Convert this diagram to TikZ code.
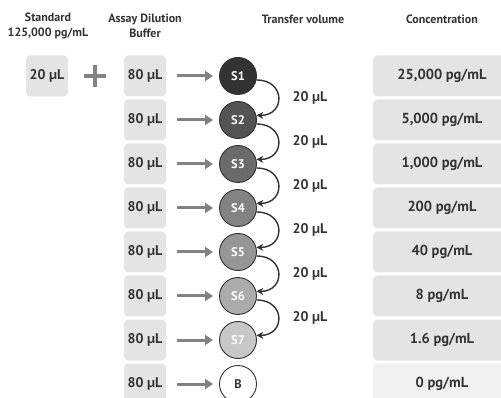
\documentclass[tikz,border=0pt]{standalone}
\usepackage{fontspec}
\setmainfont{PT Sans}
\usetikzlibrary{arrows.meta}
\definecolor{boxgray}{HTML}{E4E4E4}
\definecolor{blankgray}{HTML}{F0F0F0}
\definecolor{inkgray}{HTML}{333335}
\definecolor{arrowgray}{HTML}{808285}
\begin{document}
\begin{tikzpicture}[x=1pt,y=-1pt,
  head/.style={align=center, text=inkgray, font=\fontsize{12}{15}\selectfont\bfseries},
  volbox/.style={fill=boxgray, rounded corners=4pt, minimum width=42pt, minimum height=41pt, text=inkgray, font=\fontsize{14}{16}\selectfont\bfseries},
  concbox/.style={fill=boxgray, rounded corners=4pt, minimum width=140pt, minimum height=41pt},
  conctext/.style={text=inkgray, font=\fontsize{14.5}{16}\selectfont\bfseries},
  tube/.style={circle, draw=inkgray, line width=0.9pt, minimum size=37pt, inner sep=0pt, text=white, font=\fontsize{12.5}{14}\selectfont\bfseries},
  addarrow/.style={draw=arrowgray, line width=3pt, shorten >=6pt, -{Triangle[length=8pt,width=10pt]}},
  transfer/.style={draw=inkgray, line width=1.4pt, -{Stealth[length=7pt,width=7pt]}, out=0, in=0, looseness=2.1},
  vollabel/.style={text=inkgray, font=\fontsize{14}{16}\selectfont\bfseries}
]
\useasboundingbox (0,0) rectangle (501,398);

\node[head] (hstd) at (48,26) {Standard\\125,000 pg/mL};
\node[head] (hbuf) at (145,26) {Assay Dilution\\Buffer};
\node[head] (htr) at (303,19) {Transfer volume};
\node[head] (hconc) at (442,19) {Concentration};

\node[volbox] (std) at (47,76) {20 µL};
\draw[arrowgray, line width=4.5pt] (84,76) -- (106,76) (95,65) -- (95,87);

\node[volbox] (b1) at (145,76) {80 µL};
\node[volbox] (b2) at (145,120) {80 µL};
\node[volbox] (b3) at (145,164) {80 µL};
\node[volbox] (b4) at (145,208) {80 µL};
\node[volbox] (b5) at (145,252) {80 µL};
\node[volbox] (b6) at (145,296) {80 µL};
\node[volbox] (b7) at (145,340) {80 µL};
\node[volbox] (b8) at (145,384) {80 µL};

\node[tube, fill=inkgray] (s1) at (238,76) {S1};
\node[tube, fill=black!67] (s2) at (238,120) {S2};
\node[tube, fill=black!58] (s3) at (238,164) {S3};
\node[tube, fill=black!49] (s4) at (238,208) {S4};
\node[tube, fill=black!41] (s5) at (238,252) {S5};
\node[tube, fill=black!33] (s6) at (238,296) {S6};
\node[tube, fill=black!22] (s7) at (238,340) {S7};
\node[tube, fill=white, text=inkgray] (s8) at (238,384) {B};

\coordinate (a1) at (177,76);
\coordinate (a2) at (177,120);
\coordinate (a3) at (177,164);
\coordinate (a4) at (177,208);
\coordinate (a5) at (177,252);
\coordinate (a6) at (177,296);
\coordinate (a7) at (177,340);
\coordinate (a8) at (177,384);
\draw[addarrow] (a1) -- (s1.west);
\draw[addarrow] (a2) -- (s2.west);
\draw[addarrow] (a3) -- (s3.west);
\draw[addarrow] (a4) -- (s4.west);
\draw[addarrow] (a5) -- (s5.west);
\draw[addarrow] (a6) -- (s6.west);
\draw[addarrow] (a7) -- (s7.west);
\draw[addarrow] (a8) -- (s8.west);

\draw[transfer] (s1.-12) to (s2.14);
\draw[transfer] (s2.-12) to (s3.14);
\draw[transfer] (s3.-12) to (s4.14);
\draw[transfer] (s4.-12) to (s5.14);
\draw[transfer] (s5.-12) to (s6.14);
\draw[transfer] (s6.-12) to (s7.14);

\node[vollabel] (t1) at (310,98) {20 µL};
\node[vollabel] (t2) at (310,142) {20 µL};
\node[vollabel] (t3) at (310,186) {20 µL};
\node[vollabel] (t4) at (310,230) {20 µL};
\node[vollabel] (t5) at (310,274) {20 µL};
\node[vollabel] (t6) at (310,318) {20 µL};

\node[concbox, anchor=west] (c1) at (373,76) {};
\node[concbox, anchor=west] (c2) at (373,120) {};
\node[concbox, anchor=west] (c3) at (373,164) {};
\node[concbox, anchor=west] (c4) at (373,208) {};
\node[concbox, anchor=west] (c5) at (373,252) {};
\node[concbox, anchor=west] (c6) at (373,296) {};
\node[concbox, anchor=west] (c7) at (373,340) {};
\node[concbox, anchor=west, fill=blankgray] (c8) at (373,384) {};
\node[conctext] at (442,76) {25,000 pg/mL};
\node[conctext] at (442,120) {5,000 pg/mL};
\node[conctext] at (442,164) {1,000 pg/mL};
\node[conctext] at (442,208) {200 pg/mL};
\node[conctext] at (442,252) {40 pg/mL};
\node[conctext] at (442,296) {8 pg/mL};
\node[conctext] at (442,340) {1.6 pg/mL};
\node[conctext] at (442,384) {0 pg/mL};
\end{tikzpicture}
\end{document}
